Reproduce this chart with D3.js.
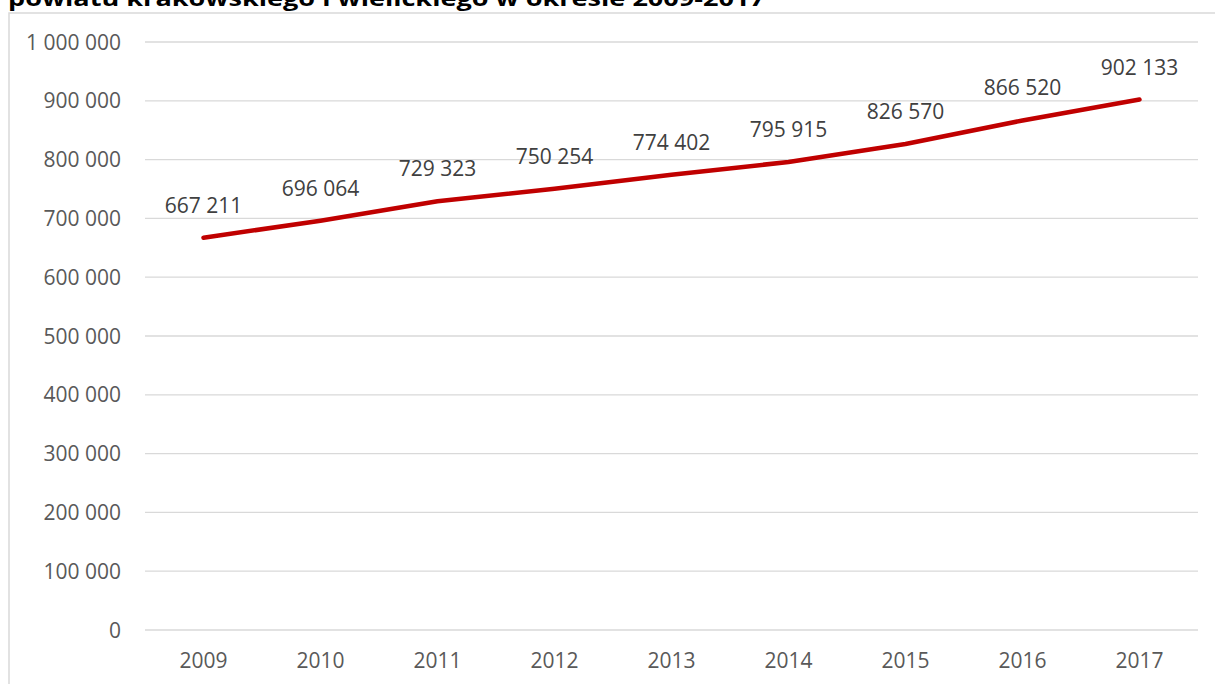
<!DOCTYPE html>
<html>
<head>
<meta charset="utf-8">
<script src="https://cdn.jsdelivr.net/npm/d3@7"></script>
<style>
  html, body { margin: 0; padding: 0; background: #fff; overflow: hidden; }
  svg { display: block; font-family: "Open Sans", sans-serif; }
</style>
</head>
<body>
<div id="chart"></div>
<script>
// Data
const years = ['2009', '2010', '2011', '2012', '2013', '2014', '2015', '2016', '2017'];
const values = [667211, 696064, 729323, 750254, 774402, 795915, 826570, 866520, 902133];
const yTicks = [0, 100000, 200000, 300000, 400000, 500000, 600000, 700000, 800000, 900000, 1000000];
const title = 'powiatu krakowskiego i wielickiego w okresie 2009-2017';

const W = 1215, H = 684;
const margin = {top: 42, right: 17, bottom: 54, left: 145};
const width = W - margin.left - margin.right;
const height = H - margin.top - margin.bottom;

const svg = d3.select('#chart')
    .append('svg')
    .attr('width', W)
    .attr('height', H);

// Chart frame (only top and left edges are in view)
svg.append('rect')
    .attr('x', 9)
    .attr('y', 13)
    .attr('width', 1400)
    .attr('height', 900)
    .attr('fill', 'none')
    .attr('stroke', '#d9d9d9')
    .attr('stroke-width', 1.5);

// Title, clipped by the top of the page as in the original
svg.append('text')
    .attr('x', 8)
    .attr('y', 6)
    .attr('font-size', 22)
    .attr('font-weight', 'bold')
    .attr('fill', '#000')
    .attr('textLength', 757)
    .attr('lengthAdjust', 'spacingAndGlyphs')
    .text(title);

const g = svg.append('g')
    .attr('transform', `translate(${margin.left},${margin.top})`);

const x = d3.scaleBand()
    .domain(years)
    .range([0, width]);

const y = d3.scaleLinear()
    .domain([0, 1000000])
    .range([height, 0]);

const fmt = v => d3.format(',')(v).replace(/,/g, ' ');

// Gridlines
g.append('g')
    .selectAll('line')
    .data(yTicks)
    .join('line')
    .attr('x1', 0)
    .attr('x2', width)
    .attr('y1', d => y(d))
    .attr('y2', d => y(d))
    .attr('stroke', '#d9d9d9')
    .attr('stroke-width', 1.3);

// Y axis labels
const yAxis = d3.axisLeft(y)
    .tickValues(yTicks)
    .tickSize(0)
    .tickPadding(24)
    .tickFormat(fmt);

g.append('g')
    .call(yAxis)
    .call(s => s.select('.domain').remove())
    .selectAll('text')
    .attr('font-size', 21)
    .attr('font-family', '"Open Sans", sans-serif')
    .attr('fill', '#595959')
    .attr('dy', '0.34em');

// X axis labels
const xAxis = d3.axisBottom(x)
    .tickSize(0)
    .tickPadding(23);

g.append('g')
    .attr('transform', `translate(0,${height})`)
    .call(xAxis)
    .call(s => s.select('.domain').remove())
    .selectAll('text')
    .attr('font-size', 21)
    .attr('font-family', '"Open Sans", sans-serif')
    .attr('fill', '#595959');

// The line
const line = d3.line()
    .x((d, i) => x(years[i]) + x.bandwidth() / 2)
    .y(d => y(d));

g.append('path')
    .datum(values)
    .attr('fill', 'none')
    .attr('stroke', '#c00000')
    .attr('stroke-width', 4.5)
    .attr('stroke-linecap', 'round')
    .attr('stroke-linejoin', 'round')
    .attr('d', line);

// Data labels
g.append('g')
    .selectAll('text')
    .data(values)
    .join('text')
    .attr('x', (d, i) => x(years[i]) + x.bandwidth() / 2)
    .attr('y', d => y(d) - 25)
    .attr('text-anchor', 'middle')
    .attr('font-size', 21)
    .attr('fill', '#404040')
    .text(fmt);
</script>
</body>
</html>
